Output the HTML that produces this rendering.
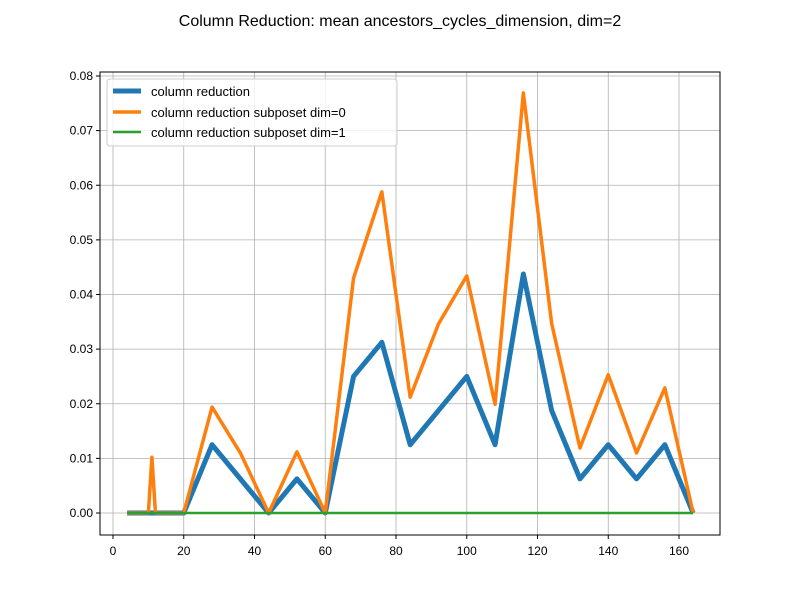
<!DOCTYPE html>
<html><head><meta charset="utf-8"><style>
body{margin:0;background:#fff;font-family:"Liberation Sans","DejaVu Sans",sans-serif;}
</style></head><body>
<svg id="chart" width="800" height="600" xmlns="http://www.w3.org/2000/svg">
<rect width="800" height="600" fill="#fff"/>
<text x="400" y="26" text-anchor="middle" font-size="16">Column Reduction: mean ancestors_cycles_dimension, dim=2</text>
<g id="grid"></g><g id="series"></g>
<rect x="100" y="72" width="620" height="463" fill="none" stroke="#000" stroke-width="1"/>
<g id="axes"></g>
<g>
<rect x="107" y="79" width="290" height="67" fill="#fff" fill-opacity="0.8" stroke="#ccc" rx="3"/>
<line x1="113" y1="91" x2="141" y2="91" stroke="#1f77b4" stroke-width="5"/>
<text x="151" y="96" font-size="13">column reduction</text>
<line x1="113" y1="112" x2="141" y2="112" stroke="#ff7f0e" stroke-width="3.5"/>
<text x="151" y="117" font-size="13">column reduction subposet dim=0</text>
<line x1="113" y1="132" x2="141" y2="132" stroke="#2ca02c" stroke-width="2.5"/>
<text x="151" y="137" font-size="13">column reduction subposet dim=1</text>
</g>
</svg>
<script>
const xs=[4,10,11,12,20,28,36,44,52,60,68,76,84,92,100,108,116,124,132,140,148,156,164];
const blue=[0,0,0,0,0,0.0125,0.00625,0,0.00625,0,0.025,0.03125,0.0125,0.01875,0.025,0.0125,0.04375,0.01875,0.00625,0.0125,0.00625,0.0125,0];
const orange=[0,0,0.0102,0,0,0.0194,0.0110,0,0.0112,0,0.043,0.0588,0.0212,0.0346,0.0434,0.0199,0.0769,0.0347,0.0119,0.0253,0.0110,0.0229,0];
const green=[0,0,0,0,0,0,0,0,0,0,0,0,0,0,0,0,0,0,0,0,0,0,0];
const xTicks=[0,20,40,60,80,100,120,140,160];
const yTicks=[0,0.01,0.02,0.03,0.04,0.05,0.06,0.07,0.08];
const NS="http://www.w3.org/2000/svg";
const X=v=>113+v*(566/160);
const Y=v=>513-v*(437/0.08);
const grid=document.getElementById('grid'),axes=document.getElementById('axes'),ser=document.getElementById('series');
function mk(tag,attrs,parent){const e=document.createElementNS(NS,tag);for(const k in attrs)e.setAttribute(k,attrs[k]);parent.appendChild(e);return e;}
xTicks.forEach(t=>{const x=X(t);
const g=mk('line',{x1:x,x2:x,y1:72,y2:535,stroke:'#b0b0b0','stroke-width':0.8},grid);


mk('line',{x1:x,x2:x,y1:535,y2:539,stroke:'#000'},axes);
const l=mk('text',{x:x,y:555,'text-anchor':'middle','font-size':12},axes);l.textContent=t;

});
yTicks.forEach(t=>{const y=Y(t);
const g=mk('line',{x1:100,x2:720,y1:y,y2:y,stroke:'#b0b0b0','stroke-width':0.8},grid);


mk('line',{x1:96,x2:100,y1:y,y2:y,stroke:'#000'},axes);
const l=mk('text',{x:93,y:y+4,'text-anchor':'end','font-size':12},axes);l.textContent=t.toFixed(2);

});
[[blue,'#1f77b4',5,'series-column-reduction'],[orange,'#ff7f0e',3.5,'series-subposet-dim0'],[green,'#2ca02c',2.5,'series-subposet-dim1']].forEach(([d,c,w,n])=>{
const p=mk('polyline',{points:xs.map((x,i)=>X(x)+','+Y(d[i])).join(' '),fill:'none',stroke:c,'stroke-width':w,'stroke-linejoin':'round'},ser);

});
</script>
</body></html>
